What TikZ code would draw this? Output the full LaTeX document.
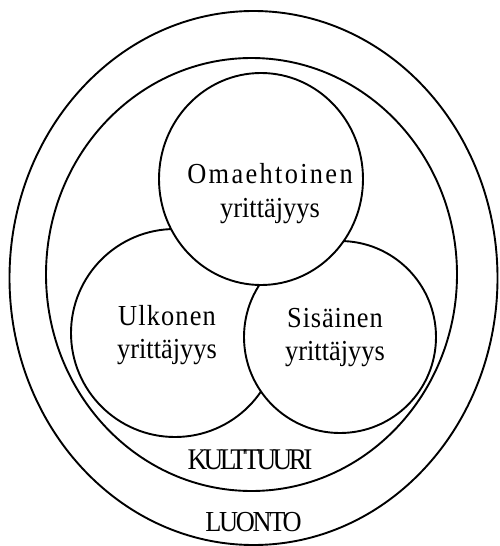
\documentclass[tikz,border=0pt]{standalone}
\usepackage{fontspec}
\setmainfont{Liberation Serif}[FakeStretch=0.91]
\newfontfamily\omafont{Liberation Serif}[FakeStretch=0.91,LetterSpace=8]
\newfontfamily\ulkfont{Liberation Serif}[FakeStretch=0.91,LetterSpace=4]
\newfontfamily\sisfont{Liberation Serif}[FakeStretch=0.91,LetterSpace=3]
\newfontfamily\kulfont{Liberation Serif}[FakeStretch=0.91,LetterSpace=-12]
\newfontfamily\luofont{Liberation Serif}[FakeStretch=0.91,LetterSpace=-8]
\begin{document}
\begin{tikzpicture}[x=1pt,y=-1pt,
  ring/.style={draw=black,line width=1.9pt},
  disc/.style={draw=black,fill=white,line width=1.9pt},
  lbl/.style={anchor=base,inner sep=0pt,font=\fontsize{29}{33}\selectfont}]
\useasboundingbox[fill=white] (0,0) rectangle (499,546);
% outer and inner ellipses
\draw[ring] (253.5,278) ellipse [x radius=244,y radius=267];
\draw[ring] (251.5,274.5) ellipse [x radius=205.5,y radius=216.5];
% three circles (left, right, top)
\draw[disc] (175,333) circle [radius=104];
\draw[disc] (340,337) circle [radius=96];
\draw[disc] (261,179) ellipse [x radius=102,y radius=106];
% texts
\node[lbl] (oma1) at (270,183) {\omafont Omaehtoinen};
\node[lbl] (oma2) at (270,217) {yrittäjyys};
\node[lbl] (ulk1) at (167,325) {\ulkfont Ulkonen};
\node[lbl] (ulk2) at (167,358) {yrittäjyys};
\node[lbl] (sis1) at (335,327) {\sisfont Sisäinen};
\node[lbl] (sis2) at (335,360) {yrittäjyys};
\node[lbl,font=\fontsize{30}{34}\selectfont] (kul) at (250,469) {\kulfont KULTTUURI};
\node[lbl,font=\fontsize{29}{33}\selectfont] (luo) at (253.5,531) {\luofont LUONTO};
\end{tikzpicture}
\end{document}
